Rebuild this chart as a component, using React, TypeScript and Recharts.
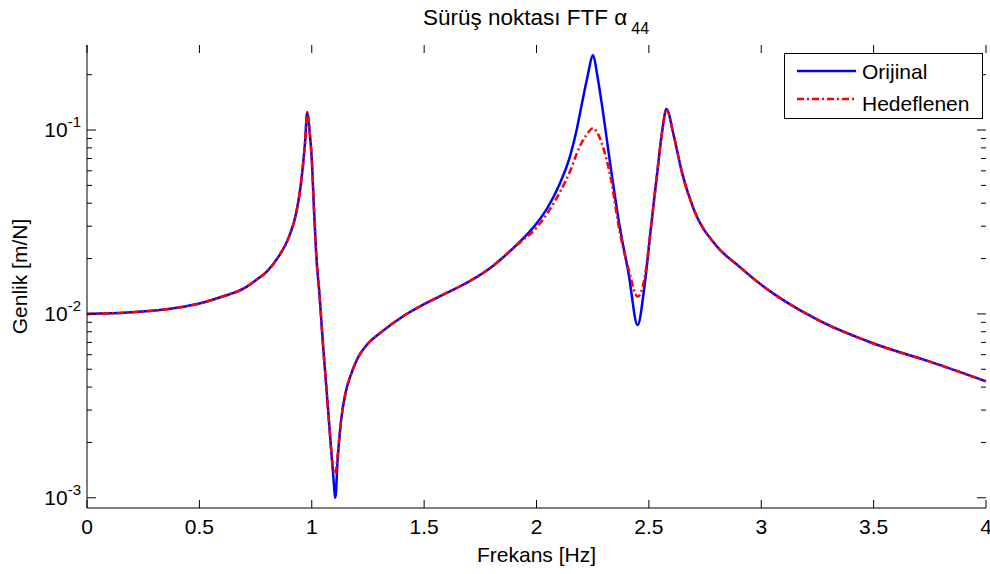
import { LineChart, Line, XAxis, YAxis } from 'recharts';

// frequency samples [Hz]
const freq = [
  0, 0.2, 0.4, 0.5, 0.6, 0.7, 0.75, 0.8, 0.85, 0.9, 0.93, 0.95, 0.97, 0.98, 0.99,
  1.0, 1.01, 1.02, 1.035, 1.05, 1.065, 1.08, 1.095, 1.105, 1.115, 1.13, 1.15,
  1.175, 1.2, 1.25, 1.3, 1.4, 1.5, 1.6, 1.7, 1.8, 1.9, 2.0, 2.05, 2.1, 2.15,
  2.18, 2.2, 2.225, 2.252, 2.27, 2.29, 2.33, 2.37, 2.41, 2.45, 2.48, 2.51, 2.54, 2.56, 2.578,
  2.61, 2.65, 2.7, 2.8, 2.9, 3.0, 3.25, 3.5, 3.75, 4.0,
];

// amplitude [m/N]
const orijinal = [
  0.01, 0.0102, 0.0108, 0.0114, 0.0124, 0.0138, 0.0152, 0.017, 0.0203, 0.0265, 0.035, 0.049, 0.085, 0.125, 0.1,
  0.07, 0.037, 0.021, 0.0125, 0.0068, 0.004, 0.0023, 0.00135, 0.001, 0.0016, 0.0026, 0.0037,
  0.0047, 0.0056, 0.0069, 0.0078, 0.0096, 0.0113, 0.013, 0.015, 0.018, 0.023, 0.031, 0.038, 0.05, 0.0725,
  0.102, 0.135, 0.19, 0.255, 0.2, 0.14, 0.063, 0.03, 0.0165, 0.0087, 0.014, 0.03, 0.063, 0.1, 0.13,
  0.094, 0.057, 0.037, 0.0235, 0.0182, 0.0144, 0.0093, 0.0069, 0.0055, 0.0043,
];

const hedeflenen = [
  0.01, 0.0102, 0.0108, 0.0114, 0.0124, 0.0138, 0.0152, 0.017, 0.0203, 0.0265, 0.035, 0.049, 0.085, 0.125, 0.1,
  0.07, 0.037, 0.021, 0.0125, 0.0068, 0.004, 0.0023, 0.00145, 0.00135, 0.0017, 0.0026, 0.0037,
  0.0047, 0.0056, 0.0069, 0.0078, 0.0096, 0.0113, 0.013, 0.015, 0.018, 0.023, 0.0295, 0.0355, 0.045, 0.06,
  0.075, 0.085, 0.095, 0.1025, 0.097, 0.085, 0.055, 0.028, 0.0175, 0.0124, 0.0155, 0.03, 0.063, 0.1, 0.13,
  0.094, 0.057, 0.037, 0.0235, 0.0182, 0.0144, 0.0093, 0.0069, 0.0055, 0.0043,
];

const xTicks = [0, 0.5, 1, 1.5, 2, 2.5, 3, 3.5, 4];
const yTicks = [
  0.001, 0.002, 0.003, 0.004, 0.005, 0.006, 0.007, 0.008, 0.009,
  0.01, 0.02, 0.03, 0.04, 0.05, 0.06, 0.07, 0.08, 0.09,
  0.1, 0.2,
];

const series = [
  { key: 'orijinal', name: 'Orijinal', color: '#0000ff', dash: undefined as string | undefined },
  { key: 'hedeflenen', name: 'Hedeflenen', color: '#ff0000', dash: '7 3 2 3' },
];

const data = freq.map((f, i) => ({ f, orijinal: orijinal[i], hedeflenen: hedeflenen[i] }));

const FONT = '"Liberation Sans", Arial, sans-serif';
// plot box edges (chart margins + axis sizes), used to mirror ticks on top/right
const PLOT_TOP = 45;
const PLOT_RIGHT = 986;

const isDecade = (v: number) => Math.abs(Math.log10(v) - Math.round(Math.log10(v))) < 1e-6;

function LeftTick({ x, y, payload }: any) {
  const v = payload.value;
  const len = isDecade(v) ? 9 : 5;
  return (
    <g>
      <line x1={x} x2={x + len} y1={y} y2={y} stroke="#000" />
      <line x1={PLOT_RIGHT} x2={PLOT_RIGHT - len} y1={y} y2={y} stroke="#000" />
      {isDecade(v) && (
        <text x={x - 6} y={y + 7} textAnchor="end" fontSize={21} fontFamily={FONT} fill="#000">
          10<tspan dy={-10} fontSize={15}>{Math.round(Math.log10(v))}</tspan>
        </text>
      )}
    </g>
  );
}

function BottomTick({ x, y, payload }: any) {
  return (
    <g>
      <line x1={x} x2={x} y1={y} y2={y - 8} stroke="#000" />
      <line x1={x} x2={x} y1={PLOT_TOP} y2={PLOT_TOP + 8} stroke="#000" />
      <text x={x} y={y + 26} textAnchor="middle" fontSize={21} fontFamily={FONT} fill="#000">
        {payload.value}
      </text>
    </g>
  );
}

export default function App() {
  return (
    <div style={{ position: 'absolute', left: 0, top: 0, width: 990, height: 574, background: '#fff', fontFamily: FONT }}>
      <LineChart width={990} height={574} data={data} margin={{ top: 45, right: 4, bottom: 0, left: 0 }}>
        <XAxis
          xAxisId="b"
          dataKey="f"
          type="number"
          domain={[0, 4]}
          ticks={xTicks}
          interval={0}
          height={66}
          tickSize={0}
          tickMargin={0}
          tickLine={false}
          axisLine={{ stroke: '#000' }}
          tick={<BottomTick />}
          label={{ value: 'Frekans [Hz]', position: 'insideBottom', offset: 12, fill: '#000', fontSize: 21, fontFamily: FONT }}
        />
        <XAxis
          xAxisId="t"
          orientation="top"
          dataKey="f"
          type="number"
          domain={[0, 4]}
          height={0}
          tick={false}
          tickLine={false}
          axisLine={{ stroke: '#000' }}
        />
        <YAxis
          yAxisId="l"
          scale="log"
          type="number"
          domain={[0.00088, 0.29]}
          allowDataOverflow
          ticks={yTicks}
          interval={0}
          width={87}
          tickSize={0}
          tickMargin={0}
          tickLine={false}
          axisLine={{ stroke: '#000' }}
          tick={<LeftTick />}
          label={{ value: 'Genlik [m/N]', angle: -90, position: 'insideLeft', offset: 20, fill: '#000', fontSize: 21, fontFamily: FONT, style: { textAnchor: 'middle' } }}
        />
        <YAxis
          yAxisId="r"
          orientation="right"
          scale="log"
          type="number"
          domain={[0.00088, 0.29]}
          allowDataOverflow
          width={0}
          tick={false}
          tickLine={false}
          axisLine={{ stroke: '#000' }}
        />
        {series.map((s) => (
          <Line
            key={s.key}
            xAxisId="b"
            yAxisId="l"
            type="monotone"
            dataKey={s.key}
            name={s.name}
            stroke={s.color}
            strokeWidth={2.5}
            strokeDasharray={s.dash}
            dot={false}
            isAnimationActive={false}
          />
        ))}
      </LineChart>

      <svg width={990} height={574} style={{ position: 'absolute', left: 0, top: 0, pointerEvents: 'none' }}>
        <text x={536} y={25} textAnchor="middle" fontSize={22.5} fontFamily={FONT} fill="#000">
          Sürüş noktası FTF α
          <tspan dx={4} dy={9} fontSize={16}>44</tspan>
        </text>
        <rect x={784.5} y={53.5} width={198} height={65} fill="#fff" stroke="#000" />
        {series.map((s, i) => (
          <g key={s.key}>
            <line x1={797} x2={856} y1={71 + i * 28} y2={71 + i * 28} stroke={s.color} strokeWidth={2.5} strokeDasharray={s.dash} />
            <text x={862} y={79 + i * 32} fontSize={21} fontFamily={FONT} fill="#000">
              {s.name}
            </text>
          </g>
        ))}
      </svg>
    </div>
  );
}
